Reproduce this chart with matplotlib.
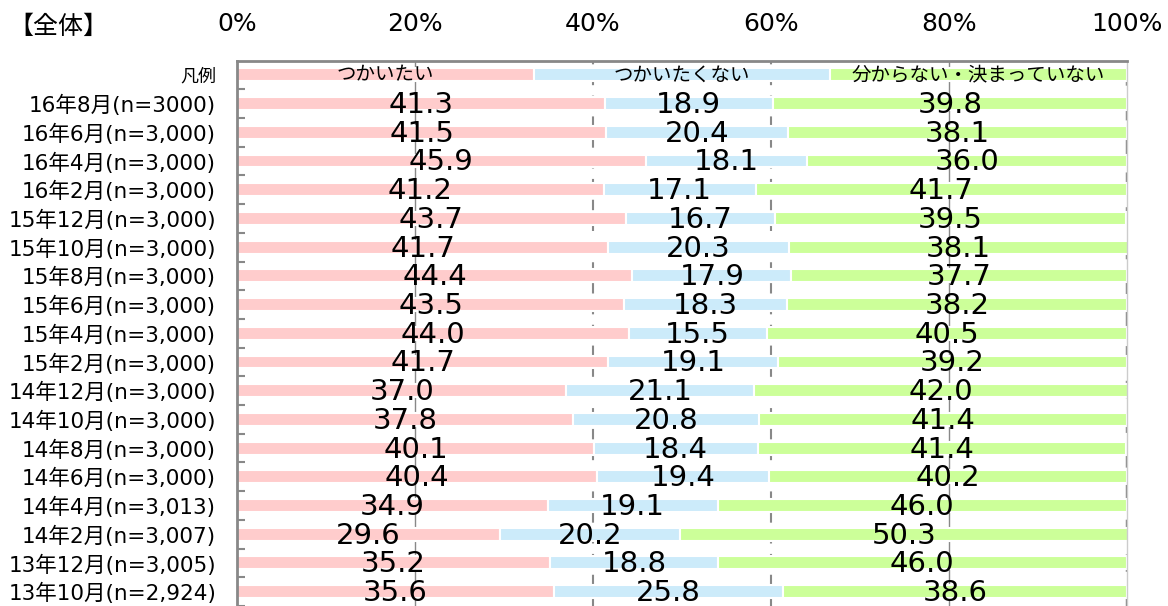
import numpy as np
import matplotlib.pyplot as plt

plt.rcParams['font.family'] = ['DejaVu Sans', 'Noto Sans CJK JP']

# data
legend_labels = ['つかいたい', 'つかいたくない', '分からない・決まっていない']
periods = ['16年8月(n=3000)', '16年6月(n=3,000)', '16年4月(n=3,000)', '16年2月(n=3,000)',
           '15年12月(n=3,000)', '15年10月(n=3,000)', '15年8月(n=3,000)', '15年6月(n=3,000)',
           '15年4月(n=3,000)', '15年2月(n=3,000)', '14年12月(n=3,000)', '14年10月(n=3,000)',
           '14年8月(n=3,000)', '14年6月(n=3,000)', '14年4月(n=3,013)', '14年2月(n=3,007)',
           '13年12月(n=3,005)', '13年10月(n=2,924)']
want = [41.3, 41.5, 45.9, 41.2, 43.7, 41.7, 44.4, 43.5, 44.0, 41.7,
        37.0, 37.8, 40.1, 40.4, 34.9, 29.6, 35.2, 35.6]
dont_want = [18.9, 20.4, 18.1, 17.1, 16.7, 20.3, 17.9, 18.3, 15.5, 19.1,
             21.1, 20.8, 18.4, 19.4, 19.1, 20.2, 18.8, 25.8]
unsure = [39.8, 38.1, 36.0, 41.7, 39.5, 38.1, 37.7, 38.2, 40.5, 39.2,
          42.0, 41.4, 41.4, 40.2, 46.0, 50.3, 46.0, 38.6]
xticks = [0, 20, 40, 60, 80, 100]

colors = ['#FFCCCC', '#CCEBFA', '#CCFF99']

fig = plt.figure(figsize=(11.68, 6.06), dpi=100)
ax = fig.add_axes([237/1168, 0, (1127-237)/1168, 1 - 61/606])

series = [np.array(want), np.array(dont_want), np.array(unsure)]
y = np.arange(1, len(periods) + 1)
h = 0.45

# legend row (row 0), three equal parts
leg_w = 100/3
for k in range(3):
    ax.barh(0, leg_w, left=k*leg_w, height=h, color=colors[k], edgecolor='white', linewidth=1.5)
    ax.text(k*leg_w + leg_w/2, 0, legend_labels[k], ha='center', va='center', fontsize=14)

left = np.zeros(len(periods))
for k in range(3):
    vals = series[k]
    ax.barh(y, vals, left=left, height=h, color=colors[k], edgecolor='white', linewidth=1.5)
    for yi, l, v in zip(y, left, vals):
        ax.text(l + v/2, yi + 0.05, f'{v:.1f}', ha='center', va='center', fontsize=21)
    left = left + vals

# grid lines
for xv in [20, 80]:
    ax.axvline(xv, color='#888888', lw=1, zorder=0)
for xv in [40, 60]:
    ax.axvline(xv, color='#888888', lw=1.5, ls=(0, (5, 5)), zorder=0)
ax.axvline(100, color='#888888', lw=2.5, ls=(0, (5, 5)), zorder=0)

ax.set_xlim(0, 100)
ax.set_ylim((606-75)/28.9, -(75-61)/28.9)
ax.xaxis.tick_top()
ax.set_xticks(xticks)
ax.set_xticklabels([f'{t}%' for t in xticks], fontsize=18)
ax.tick_params(axis='x', length=0, pad=18)

ax.set_yticks(range(len(periods) + 1))
ax.set_yticklabels(['凡例'] + periods, fontsize=15.5)
ax.get_yticklabels()[0].set_fontsize(13)
ax.tick_params(axis='y', length=0, pad=15)
ax.set_yticks(np.arange(0.5, len(periods) + 1, 1), minor=True)
ax.tick_params(axis='y', which='minor', direction='in', length=6, color='#888888', width=1.5)

for s in ['top', 'left']:
    ax.spines[s].set_color('#888888')
    ax.spines[s].set_linewidth(2)
ax.spines['bottom'].set_visible(False)
ax.spines['right'].set_color('#cccccc')
ax.spines['right'].set_linewidth(1)

fig.text(8/1168, 1 - 27/606, '【全体】', fontsize=18, va='center', ha='left')

fig.savefig('out.png', dpi=100)
